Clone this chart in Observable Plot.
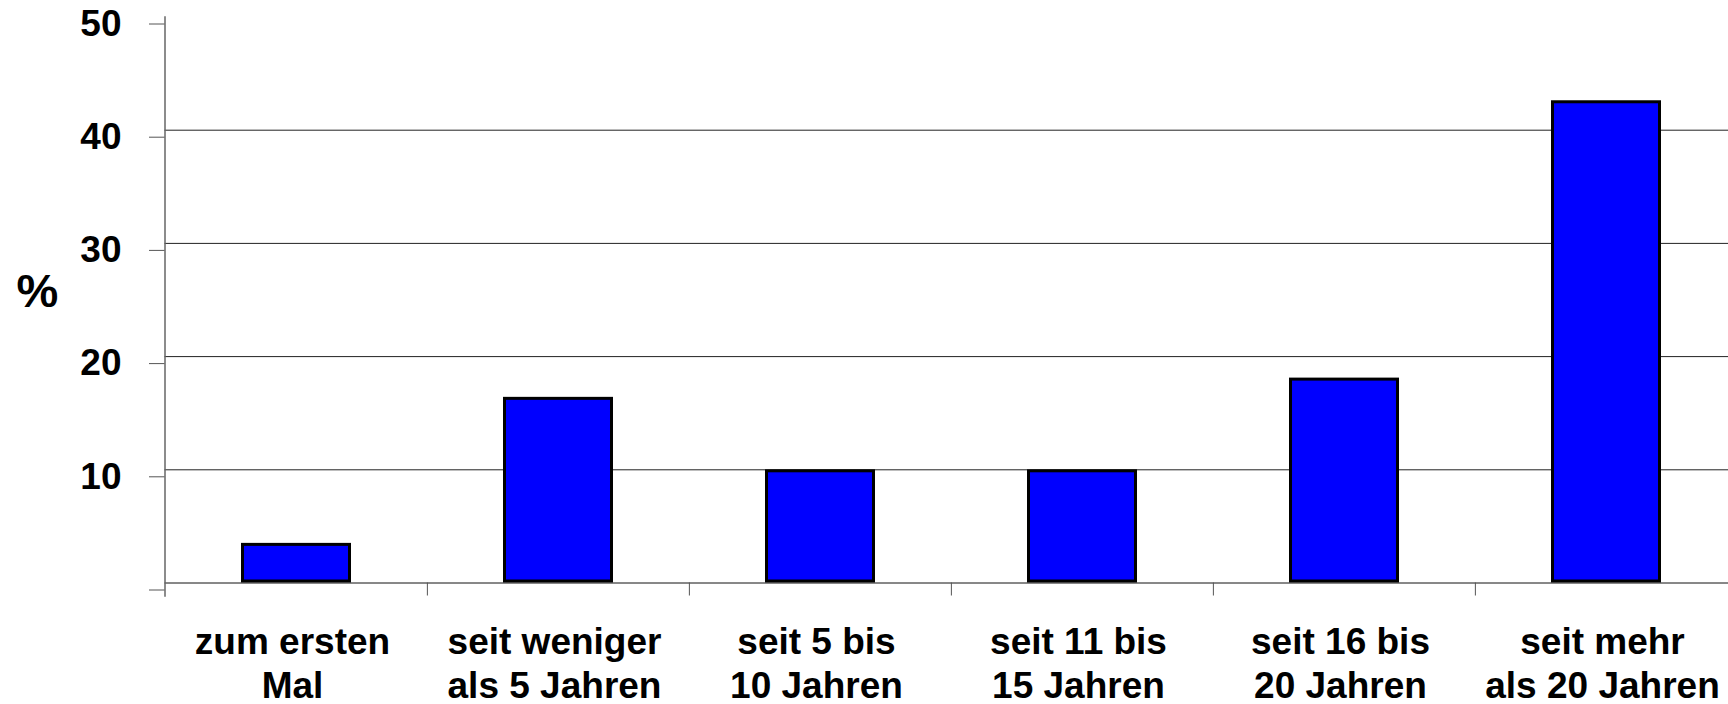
<!DOCTYPE html>
<html>
<head>
<meta charset="utf-8">
<script src="https://cdn.jsdelivr.net/npm/d3@7"></script>
<script src="https://cdn.jsdelivr.net/npm/@observablehq/plot@0.6"></script>
<style>
  html, body { margin: 0; padding: 0; background: #fff; overflow: hidden; }
  #chart { width: 1728px; height: 704px; overflow: hidden; }
  #chart svg { display: block; max-width: none !important; }
</style>
</head>
<body>
<div id="chart"></div>
<script>
const categories = [
  "zum ersten\nMal",
  "seit weniger\nals 5 Jahren",
  "seit 5 bis\n10 Jahren",
  "seit 11 bis\n15 Jahren",
  "seit 16 bis\n20 Jahren",
  "seit mehr\nals 20 Jahren"
];
const values = [3.5, 16.4, 10.0, 10.0, 18.1, 42.6];
const yTicks = [0, 10, 20, 30, 40, 50];
const gridTicks = [10, 20, 30, 40];
const yLabel = "%";

const data = categories.map((c, i) => ({category: c, value: values[i]}));

const width = 1738;
const height = 704;
const marginLeft = 164.5;
const marginRight = 0;
const marginTop = 16.5;
const marginBottom = 121.5;
const step = (width - marginLeft - marginRight) / categories.length;
const font = "'Liberation Sans', Arial, Helvetica, sans-serif";

const chart = Plot.plot({
  width, height, marginLeft, marginRight, marginTop, marginBottom,
  style: {fontFamily: font, fontWeight: "bold", color: "#000", background: "#fff", maxWidth: "none"},
  x: {domain: categories, paddingInner: 0.582, paddingOuter: 0.291, label: null},
  y: {domain: [0, 50], label: null},
  marks: [
    Plot.gridY({ticks: gridTicks, stroke: "#222", strokeOpacity: 1, strokeWidth: 1}),
    Plot.ruleY([0], {stroke: "#111", strokeWidth: 1}),
    Plot.frame({anchor: "left", insetBottom: -13, stroke: "#666", strokeWidth: 1.5}),
    Plot.ruleX(categories.slice(1), {x: d => d, y1: 0, y2: 0, insetBottom: -13, dx: -step / 2, stroke: "#555", strokeWidth: 1}),
    Plot.barY(data, {x: "category", y: "value", fill: "#0000ff", stroke: "#000", strokeWidth: 3, inset: 1.5}),
    Plot.axisY({
      ticks: yTicks,
      tickSize: 15.5,
      tickPadding: 28,
      tickFormat: d => d === 0 ? "" : String(d),
      fontSize: 37,
      fontWeight: "bold",
      stroke: "#555",
      dy: 7,
      label: null
    }),
    Plot.axisX({
      tickSize: 0,
      tickPadding: 40,
      fontSize: 37,
      fontWeight: "bold",
      lineHeight: 1.19,
      dx: -4,
      label: null
    }),
    Plot.text([yLabel], {
      frameAnchor: "left",
      text: d => d,
      dx: -127.5,
      dy: -8,
      textAnchor: "middle",
      fontSize: 47,
      fontWeight: "bold",
      fill: "#000"
    })
  ]
});

document.getElementById("chart").append(chart);
</script>
</body>
</html>
